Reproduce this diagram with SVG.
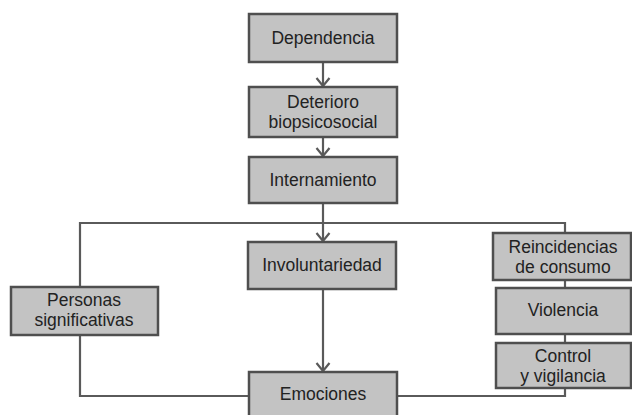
<svg xmlns="http://www.w3.org/2000/svg" width="632" height="415" viewBox="0 0 632 415">
<defs>
<marker id="arr" markerWidth="12" markerHeight="16" refX="10" refY="8" orient="auto" markerUnits="userSpaceOnUse" viewBox="0 0 12 16">
<path d="M2,1.5 L10,8 L2,14.5" fill="none" stroke="#5a5a5a" stroke-width="2.2"/>
</marker>
</defs>
<style>
.box{fill:#c3c3c3;stroke:#4f4f4f;stroke-width:2.5}
.t{font-family:"Liberation Sans",Arial,sans-serif;font-size:17.5px;fill:#222;text-anchor:middle}
.c{fill:none;stroke:#5a5a5a;stroke-width:2.2}
</style>
<rect width="632" height="415" fill="#fff"/>
<g id="connectors">
<line class="c" x1="323" y1="62" x2="323" y2="86" marker-end="url(#arr)"/>
<line class="c" x1="323" y1="137" x2="323" y2="156" marker-end="url(#arr)"/>
<line class="c" x1="323" y1="203" x2="323" y2="241" marker-end="url(#arr)"/>
<polyline class="c" points="80,287 80,223 565,223 565,233"/>
<line class="c" x1="323" y1="289" x2="323" y2="371" marker-end="url(#arr)"/>
<polyline class="c" points="80,335 80,396 249,396"/>
<polyline class="c" points="397,396 565,396 565,388"/>
<line class="c" x1="565" y1="280" x2="565" y2="288"/>
<line class="c" x1="565" y1="334" x2="565" y2="343"/>
</g>
<g id="dependencia"><rect class="box" x="249" y="14" width="148" height="48"/><text class="t" x="323" y="44">Dependencia</text></g>
<g id="deterioro"><rect class="box" x="249" y="87" width="148" height="50"/><text class="t" x="323" y="108">Deterioro</text><text class="t" x="323" y="128">biopsicosocial</text></g>
<g id="internamiento"><rect class="box" x="249" y="157" width="148" height="46"/><text class="t" x="323" y="186">Internamiento</text></g>
<g id="involuntariedad"><rect class="box" x="248" y="242" width="148" height="47"/><text class="t" x="322" y="271">Involuntariedad</text></g>
<g id="personas"><rect class="box" x="11" y="287" width="147" height="48"/><text class="t" x="84" y="306">Personas</text><text class="t" x="84" y="326">significativas</text></g>
<g id="emociones"><rect class="box" x="249" y="372" width="148" height="50"/><text class="t" x="323" y="400">Emociones</text></g>
<g id="reincidencias"><rect class="box" x="493" y="233" width="138" height="47"/><text class="t" x="563" y="253">Reincidencias</text><text class="t" x="563" y="273">de consumo</text></g>
<g id="violencia"><rect class="box" x="496" y="288" width="135" height="46"/><text class="t" x="563" y="316">Violencia</text></g>
<g id="control"><rect class="box" x="496" y="343" width="135" height="45"/><text class="t" x="563" y="362">Control</text><text class="t" x="563" y="382">y vigilancia</text></g>
</svg>
